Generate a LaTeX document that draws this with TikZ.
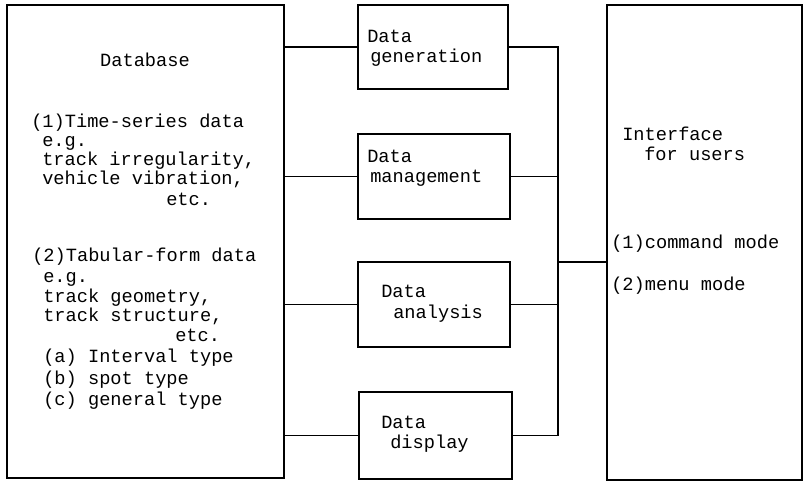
\documentclass[tikz,border=0pt]{standalone}
\usepackage{fontspec}
\setmonofont{Liberation Mono}
\begin{document}
\begin{tikzpicture}[x=0.75pt,y=-0.75pt,
  box/.style={draw, line width=1pt, inner sep=0, minimum width=#1},
  wire/.style={line width=1pt},
  lbl/.style={font=\ttfamily\fontsize{14}{16}\selectfont, anchor=base west, inner sep=0}]
\useasboundingbox (0,0) rectangle (804,481);
\fill[white] (0,0) rectangle (804,481);

% blocks
\node[box=207.75pt, minimum height=354.75pt] (db)   at (145.5,241.5) {};
\node[box=112.5pt,  minimum height=63pt]     (gen)  at (433,47) {};
\node[box=114pt,    minimum height=63.75pt]  (mgmt) at (434,176.5) {};
\node[box=114pt,    minimum height=63.75pt]  (anal) at (434,304.5) {};
\node[box=114.75pt, minimum height=65.25pt]  (disp) at (435.5,435.5) {};
\node[box=146.25pt, minimum height=356.25pt] (ui)   at (704.5,242.5) {};

% database contents
\node[lbl, anchor=base] (dbtitle) at (145,67) {Database};
\foreach \x/\y/\t [count=\i] in {
  31/128/{(1)Time-series data},
  42/147/{e.g.},
  42/166/{track irregularity,},
  42/185/{vehicle vibration,},
  166/206/{etc.},
  32/262/{(2)Tabular-form data},
  43/282/{e.g.},
  43/302/{track geometry,},
  43/321/{track structure,},
  175/341/{etc.},
  43/363/{(a) Interval type},
  43/384/{(b) spot type},
  43/405/{(c) general type}}
  \node[lbl] (dbline\i) at (\x,\y) {\t};

% function blocks contents
\node[lbl] (gen1)  at (367,43)  {Data};
\node[lbl] (gen2)  at (370,63)  {generation};
\node[lbl] (mgmt1) at (367,163) {Data};
\node[lbl] (mgmt2) at (370,183) {management};
\node[lbl] (anal1) at (381,298) {Data};
\node[lbl] (anal2) at (393,319) {analysis};
\node[lbl] (disp1) at (381,428) {Data};
\node[lbl] (disp2) at (390,448) {display};

% user interface contents
\node[lbl] (ui1) at (622,141) {Interface};
\node[lbl] (ui2) at (644,161) {for users};
\node[lbl] (ui3) at (611,249) {(1)command mode};
\node[lbl] (ui4) at (611,291) {(2)menu mode};

% connections
\foreach \b in {gen,mgmt,anal,disp}
  \draw[wire] (db.east |- \b.west) -- (\b.west);
\coordinate (bus) at (558,262);
\foreach \b in {gen,mgmt,anal,disp}
  \draw[wire] (\b.east) -| (bus);
\draw[wire] (bus) -- (bus -| ui.west);
\end{tikzpicture}
\end{document}
